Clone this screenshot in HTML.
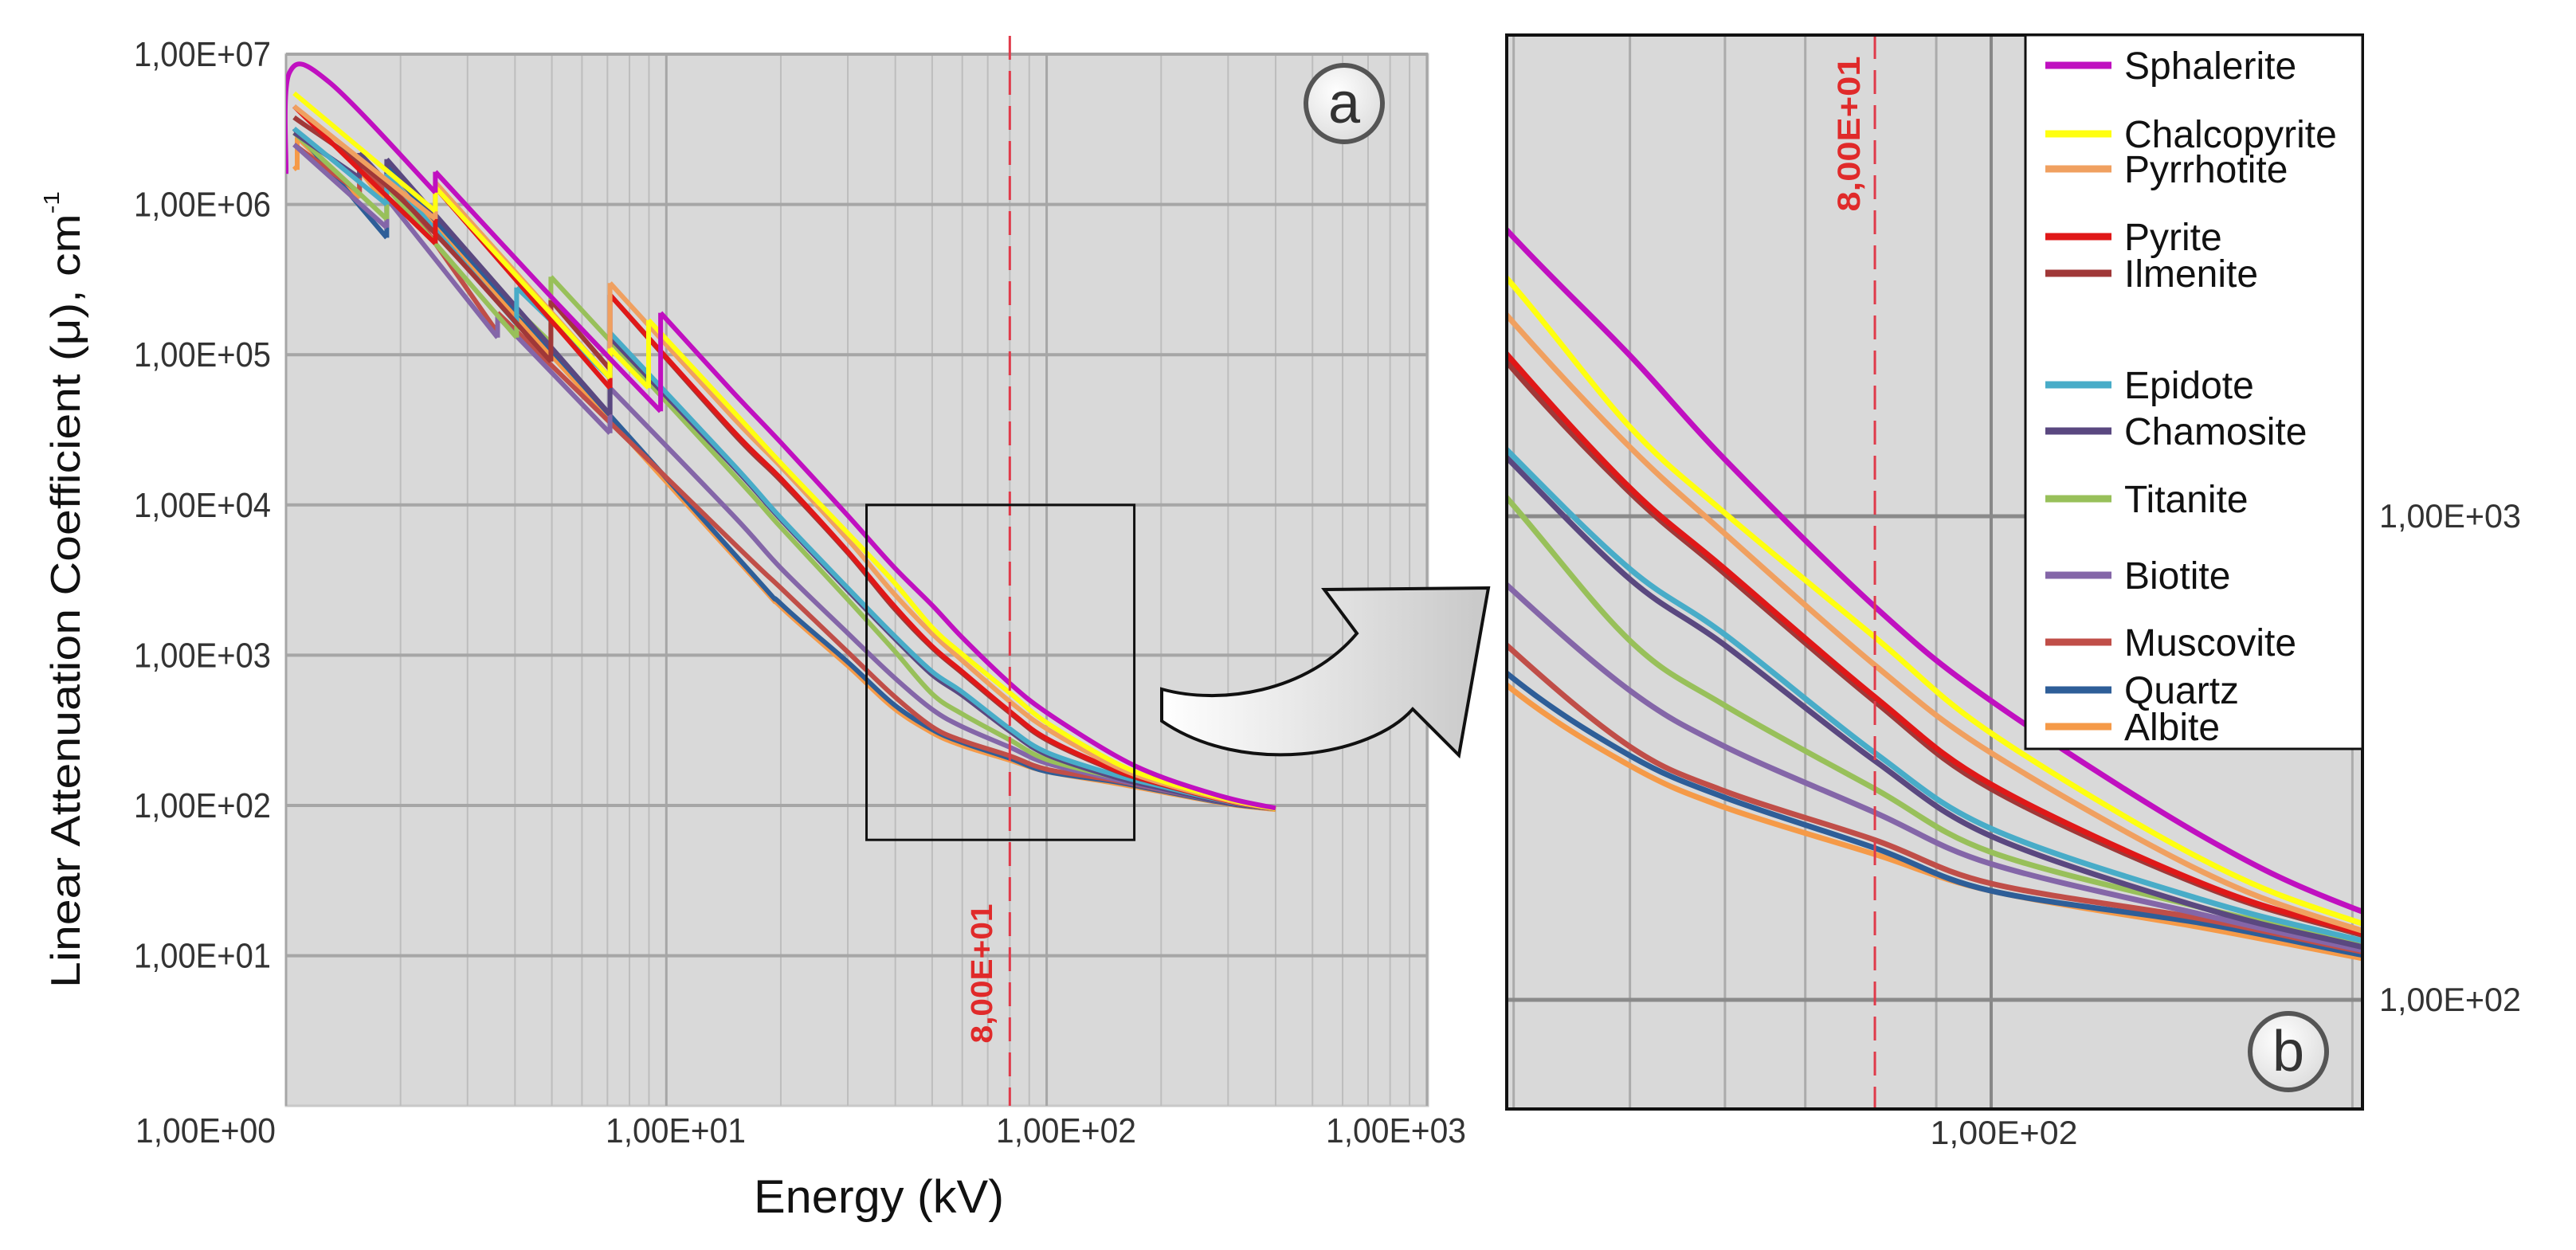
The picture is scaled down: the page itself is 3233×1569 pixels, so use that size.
<!DOCTYPE html>
<html><head><meta charset="utf-8"><title>Linear attenuation coefficient vs energy</title>
<style>html,body{margin:0;padding:0;background:#fff}svg{display:block}text{font-family:"Liberation Sans",sans-serif}</style>
</head><body>
<svg id="chart" width="3233" height="1569" viewBox="0 0 3233 1569" xmlns="http://www.w3.org/2000/svg">
<defs>
<clipPath id="clipA"><rect x="359" y="68" width="1433" height="1320"/></clipPath>
<clipPath id="clipB"><rect x="1891" y="44" width="1074" height="1348"/></clipPath>
<linearGradient id="arrowGrad" x1="0" y1="0" x2="1" y2="0"><stop offset="0" stop-color="#ffffff"/><stop offset="1" stop-color="#c8c8c8"/></linearGradient>
<radialGradient id="circGrad" cx="0.4" cy="0.35" r="0.7"><stop offset="0" stop-color="#ffffff"/><stop offset="1" stop-color="#dcdcdc"/></radialGradient>
</defs>
<g id="panelA"></g>
<g id="panelB"></g>
<g id="overlay"></g>
</svg>
<script>
const NS = "http://www.w3.org/2000/svg";
// ---- data (energy in keV, attenuation in cm^-1) ----
const seriesNames = ["Sphalerite","Chalcopyrite","Pyrrhotite","Pyrite","Ilmenite","Epidote","Chamosite","Titanite","Biotite","Muscovite","Quartz","Albite"];
const sphaleriteE = [1.0,1.02,1.3,2.47,2.47,5,9.66,9.66,15,20,30,39.5,50,60,80,100,150,200,300,400];
const sphaleriteV = [1.6e6,7.5e6,6.5e6,1.2e6,1.65e6,2.4e5,4.2e4,1.9e5,5.6e4,2.6e4,8.5e3,3900,2150,1310,650,415,218,155,112,96];
const chalcopyriteE = [1.05,2.47,2.47,7.11,7.11,8.98,8.98,15,20,30,39.5,50,60,80,100,150,200,300,400];
const chalcopyriteV = [5.5e6,9e5,1.3e6,7e4,1.1e5,6e4,1.7e5,4.2e4,1.9e4,6.5e3,3100,1530,1015,562,356,195,146,110,95];
const pyrrhotiteE = [1.05,2.47,2.47,7.11,7.11,15,20,30,39.5,50,60,80,100,150,200,300,400];
const pyrrhotiteV = [4.5e6,8e5,1.4e6,7e4,3e5,3.8e4,1.8e4,5.9e3,2600,1390,920,492,324,184,141,108,95];
const pyriteE = [1.05,2.47,2.47,7.11,7.11,15,20,30,39.5,50,60,80,100,150,200,300,400];
const pyriteV = [4.5e6,5.5e5,1.3e6,6e4,2.5e5,3.1e4,1.5e4,4.9e3,2160,1145,778,423,279,174,139,107,95];
const ilmeniteE = [1.05,2.0,4.97,4.97,7.11,7.11,15,20,30,39.5,50,60,80,100,150,200,300,400];
const ilmeniteV = [3.8e6,1.1e6,9e4,2.3e5,8e4,2.5e5,3e4,1.45e4,4.8e3,2080,1120,760,414,273,172,138,107,95];
const epidoteE = [1.05,1.84,1.84,4.04,4.04,7.11,7.11,15,20,30,39.5,50,60,80,100,150,200,300,400];
const epidoteV = [3.2e6,1e6,1.6e6,1.6e5,2.8e5,7e4,1.4e5,1.86e4,8.2e3,2.8e3,1370,778,569,324,226,161,134,106,95];
const chamositeE = [1.05,1.56,1.56,1.84,1.84,7.11,7.11,15,20,30,39.5,50,60,80,100,150,200,300,400];
const chamositeV = [3e6,1.5e6,2.2e6,1.4e6,2e6,4e4,1.3e5,1.8e4,8e3,2.7e3,1320,741,541,312,218,155,130,104,95];
const titaniteE = [1.05,1.84,1.84,4.04,4.04,4.97,4.97,15,20,30,39.5,50,60,80,100,150,200,300,400];
const titaniteV = [3e6,8e5,1.3e6,1.3e5,2e5,1.2e5,3.3e5,1.6e4,7.1e3,2.35e3,1090,553,406,273,202,155,132,105,95];
const biotiteE = [1.05,1.84,1.84,3.6,3.6,7.11,7.11,15,20,30,39.5,50,60,80,100,150,200,300,400];
const biotiteV = [2.5e6,7e5,1.1e6,1.3e5,1.8e5,3e4,6e4,8.5e3,3.8e3,1.4e3,720,436,334,244,191,150,128,104,95];
const muscoviteE = [1.05,1.56,1.56,1.84,1.84,3.6,3.6,15,20,30,39.5,50,60,80,100,150,200,300,400];
const muscoviteV = [2.5e6,1.2e6,1.8e6,1.2e6,1.6e6,1.4e5,1.9e5,5.6e3,2.8e3,1.05e3,540,334,270,214,174,147,127,104,95];
const quartzE = [1.05,1.84,1.84,15,20,30,39.5,50,60,80,100,150,200,300,400];
const quartzV = [3.2e6,6e5,1.8e6,4.8e3,2.2e3,900,473,320,262,206,168,144,125,103,95];
const albiteE = [1.05,1.07,1.07,1.56,1.56,1.84,1.84,15,20,30,39.5,50,60,80,100,150,200,300,400];
const albiteV = [1.8e6,1.7e6,2.8e6,1.1e6,1.7e6,1e6,1.6e6,4.6e3,2.1e3,850,447,305,250,200,168,141,123,102,94];
const yTicksA = ["1,00E+07","1,00E+06","1,00E+05","1,00E+04","1,00E+03","1,00E+02","1,00E+01"];
const yTickValsA = [1e7,1e6,1e5,1e4,1e3,1e2,1e1];
const xTicksA = ["1,00E+00","1,00E+01","1,00E+02","1,00E+03"];
const xTickValsA = [1,10,100,1000];
const markerEnergy = [80];
const markerLabel = ["8,00E+01"];

const seriesE = [sphaleriteE,chalcopyriteE,pyrrhotiteE,pyriteE,ilmeniteE,epidoteE,chamositeE,titaniteE,biotiteE,muscoviteE,quartzE,albiteE];
const seriesV = [sphaleriteV,chalcopyriteV,pyrrhotiteV,pyriteV,ilmeniteV,epidoteV,chamositeV,titaniteV,biotiteV,muscoviteV,quartzV,albiteV];
const colors = ["#c010c0","#ffff10","#f0a060","#e01818","#a03838","#48acc8","#5a4880","#98c05a","#8466a8","#c04e48","#2e5e98","#f59a48"];
const legendY = [82,168,212,297,343,483,541,626,722,806,866,912];

// ---- axis functions ----
const L = Math.log10;
function xA(e){return 359 + L(e)*477.3;}
function yA(v){return 68 + (7 - L(v))*188.6;}
function xB(e){return 2499 + (L(e)-2)*1506;}
function yB(v){return 648 + (3 - L(v))*607;}

function mk(tag, attrs, parent){
  const el = document.createElementNS(NS, tag);
  for (const k in attrs) el.setAttribute(k, attrs[k]);
  parent.appendChild(el);
  return el;
}
// smooth path: split at absorption edges (repeated energies), Catmull-Rom within segments
function smoothPath(E, V, fx, fy){
  const segs = []; let cur = [];
  for (let i=0;i<E.length;i++){
    if (i>0 && E[i]===E[i-1]){ segs.push(cur); cur=[cur[cur.length-1]]; cur.push([fx(E[i]),fy(V[i])]); segs.push(cur); cur=[[fx(E[i]),fy(V[i])]]; continue; }
    cur.push([fx(E[i]),fy(V[i])]);
  }
  segs.push(cur);
  let d = '';
  segs.forEach(p=>{
    if (p.length<2) return;
    d += 'M'+p[0][0].toFixed(1)+','+p[0][1].toFixed(1);
    for (let i=0;i<p.length-1;i++){
      const p0=p[i-1]||p[i], p1=p[i], p2=p[i+1], p3=p[i+2]||p[i+1];
      const c1=[p1[0]+(p2[0]-p0[0])/6, p1[1]+(p2[1]-p0[1])/6];
      const c2=[p2[0]-(p3[0]-p1[0])/6, p2[1]-(p3[1]-p1[1])/6];
      d += 'C'+c1[0].toFixed(1)+','+c1[1].toFixed(1)+' '+c2[0].toFixed(1)+','+c2[1].toFixed(1)+' '+p2[0].toFixed(1)+','+p2[1].toFixed(1);
    }
  });
  return d;
}
const A = document.getElementById('panelA');
const B = document.getElementById('panelB');
const O = document.getElementById('overlay');

// ---- Panel A ----
let el = mk('rect',{x:359,y:68,width:1433,height:1320,fill:'#d9d9d9',stroke:'#c8c8c8','stroke-width':3},A);


for (let d=0; d<3; d++){
  for (let m=2; m<=9; m++){
    const x = xA(m*Math.pow(10,d));
    el = mk('line',{x1:x,y1:68,x2:x,y2:1388,stroke:'#bdbdbd','stroke-width':2},A);
    
    
  }
}
xTickValsA.forEach((v,i)=>{
  const x = xA(v);
  el = mk('line',{x1:x,y1:68,x2:x,y2:1388,stroke:'#a6a6a6','stroke-width':3},A);
  
  
});
yTickValsA.forEach((v,i)=>{
  const y = yA(v);
  el = mk('line',{x1:359,y1:y,x2:1792,y2:y,stroke:'#a6a6a6','stroke-width':4},A);
  
  
  const t = mk('text',{x:340,y:y+15,'text-anchor':'end','font-size':44,fill:'#333',textLength:172,lengthAdjust:'spacingAndGlyphs'},A);
  t.textContent = yTicksA[i];
  
  
});
const xLabelCenters = [258,848,1338,1752];
xTicksA.forEach((s,i)=>{
  const t = mk('text',{x:xLabelCenters[i],y:1434,'text-anchor':'middle','font-size':44,fill:'#333',textLength:176,lengthAdjust:'spacingAndGlyphs'},A);
  t.textContent = s;
  
  
});
const gA = mk('g',{'clip-path':'url(#clipA)'},A);


for (let s=seriesNames.length-1; s>=0; s--){
  const p = mk('path',{d:smoothPath(seriesE[s],seriesV[s],xA,yA),fill:'none',stroke:colors[s],'stroke-width':6,'stroke-linejoin':'round'},gA);
  
  
}
// marker line A
const mxA = xA(markerEnergy[0]);
el = mk('line',{x1:mxA,y1:45,x2:mxA,y2:1388,stroke:'#e03a4a','stroke-width':3,'stroke-dasharray':'30 14'},A);


el = mk('text',{x:0,y:0,transform:'translate(1245,1222) rotate(-90)','text-anchor':'middle','font-size':38,'font-weight':'bold',fill:'#e02a2a',textLength:175,lengthAdjust:'spacingAndGlyphs'},A);
el.textContent = markerLabel[0];


// zoom box
el = mk('rect',{x:xA(33.6),y:yA(1e4),width:xA(170)-xA(33.6),height:yA(59)-yA(1e4),fill:'none',stroke:'#111','stroke-width':3},A);


// axis titles
el = mk('text',{x:0,y:0,transform:'translate(100,740) rotate(-90)','text-anchor':'middle','font-size':52,fill:'#111',textLength:1000,lengthAdjust:'spacingAndGlyphs'},A);
el.innerHTML = 'Linear Attenuation Coefficient (μ), cm<tspan font-size="28" dy="-26">-1</tspan>';


el = mk('text',{x:1103,y:1522,'text-anchor':'middle','font-size':58,fill:'#111',textLength:314,lengthAdjust:'spacingAndGlyphs'},A);
el.textContent = 'Energy (kV)';



// ---- Panel B ----
el = mk('rect',{x:1891,y:44,width:1074,height:1348,fill:'#d9d9d9'},B);


const gridBE = [40,50,60,70,90,200];
gridBE.forEach(e=>{
  const x = xB(e);
  if (x>1891 && x<2965){
    el = mk('line',{x1:x,y1:44,x2:x,y2:1392,stroke:'#ababab','stroke-width':3},B);
    
    
  }
});
el = mk('line',{x1:xB(100),y1:44,x2:xB(100),y2:1392,stroke:'#888','stroke-width':4},B);


const yTickValsB = [1e3,1e2];
const yTicksB = ["1,00E+03","1,00E+02"];
yTickValsB.forEach((v,i)=>{
  const y = yB(v);
  el = mk('line',{x1:1891,y1:y,x2:2965,y2:y,stroke:'#8a8a8a','stroke-width':5},B);
  
  
  const t = mk('text',{x:2986,y:y+14,'font-size':42,fill:'#333',textLength:178,lengthAdjust:'spacingAndGlyphs'},B);
  t.textContent = yTicksB[i];
  
  
});
el = mk('text',{x:2515,y:1436,'text-anchor':'middle','font-size':42,fill:'#333',textLength:185,lengthAdjust:'spacingAndGlyphs'},B);
el.textContent = '1,00E+02';


const gB = mk('g',{'clip-path':'url(#clipB)'},B);


for (let s=seriesNames.length-1; s>=0; s--){
  const p = mk('path',{d:smoothPath(seriesE[s],seriesV[s],xB,yB),fill:'none',stroke:colors[s],'stroke-width':7,'stroke-linejoin':'round'},gB);
  
  
}
const mxB = xB(markerEnergy[0]);
el = mk('line',{x1:mxB,y1:44,x2:mxB,y2:1392,stroke:'#e03a4a','stroke-width':3,'stroke-dasharray':'30 14'},B);


el = mk('text',{x:0,y:0,transform:'translate(2334,168) rotate(-90)','text-anchor':'middle','font-size':40,'font-weight':'bold',fill:'#e02a2a',textLength:195,lengthAdjust:'spacingAndGlyphs'},B);
el.textContent = markerLabel[0];


el = mk('rect',{x:1891,y:44,width:1074,height:1348,fill:'none',stroke:'#111','stroke-width':4},B);


// legend
const lg = mk('g',{},B);


el = mk('rect',{x:2542,y:44,width:423,height:896,fill:'#fff',stroke:'#111','stroke-width':3},lg);


seriesNames.forEach((n,i)=>{
  const y = legendY[i];
  const ln = mk('line',{x1:2567,y1:y,x2:2650,y2:y,stroke:colors[i],'stroke-width':9},lg);
  
  
  const t = mk('text',{x:2666,y:y+17,'font-size':48,fill:'#111'},lg);
  t.textContent = n;
  
  
});

// ---- overlay: arrow and panel labels ----
el = mk('path',{d:'M1458,865 C1530,885 1640,870 1703,795 L1662,740 L1868,738 L1831,948 L1773,890 C1720,950 1560,975 1458,905 Z',fill:'url(#arrowGrad)',stroke:'#111','stroke-width':4,'stroke-linejoin':'miter'},O);


[[1687,130,'a'],[2872,1320,'b']].forEach(c=>{
  const ci = mk('circle',{cx:c[0],cy:c[1],r:48,fill:'url(#circGrad)',stroke:'#555','stroke-width':6},O);
  
  
  const t = mk('text',{x:c[0],y:c[1]+24,'text-anchor':'middle','font-size':72,fill:'#333'},O);
  t.textContent = c[2];
  
  
});
</script>
</body></html>
